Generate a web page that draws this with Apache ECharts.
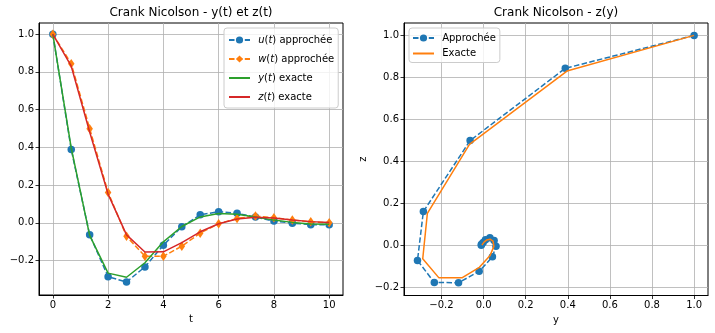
<!DOCTYPE html>
<html>
<head>
<meta charset="utf-8">
<script src="https://cdn.jsdelivr.net/npm/echarts@6/dist/echarts.min.js"></script>
<style>
  html, body { margin: 0; padding: 0; background: #fff; }
  #chart { width: 715px; height: 333px; }
</style>
</head>
<body>
<div id="chart"></div>
<script>
// Time grid of the Crank-Nicolson scheme (h = 2/3)
const tValues = [0, 0.667, 1.333, 2, 2.667, 3.333, 4, 4.667, 5.333, 6, 6.667, 7.333, 8, 8.667, 9.333, 10];

// Approximate solution
const uApprox = [1.0, 0.388, -0.064, -0.286, -0.314, -0.234, -0.119, -0.021, 0.042, 0.059, 0.050, 0.030, 0.009, -0.002, -0.010, -0.011];
const wApprox = [1.0, 0.843, 0.499, 0.161, -0.072, -0.177, -0.178, -0.124, -0.055, -0.005, 0.023, 0.036, 0.027, 0.014, 0.005, 0.0];

// Exact solution sampled on the same grid
const yExact = [1.0, 0.396, -0.067, -0.267, -0.289, -0.212, -0.101, -0.020, 0.031, 0.049, 0.045, 0.031, 0.014, 0.002, -0.006, -0.008];
const zExact = [1.0, 0.830, 0.481, 0.152, -0.064, -0.155, -0.154, -0.105, -0.048, -0.005, 0.020, 0.029, 0.025, 0.015, 0.006, 0.001];

// Tick values
const tTicks = [0, 2, 4, 6, 8, 10];
const valueTicks = [-0.2, 0.0, 0.2, 0.4, 0.6, 0.8, 1.0];

const C_BLUE = '#1f77b4', C_ORANGE = '#ff7f0e', C_GREEN = '#2ca02c', C_RED = '#d62728';
const FONT = 'DejaVu Sans';
const DASH = [5.5, 2.4];

const fmt1 = v => v.toFixed(1).replace('-', '\u2212');
const zip = (a, b) => a.map((v, i) => [v, b[i]]);

function valueAxis(gridIndex, min, max, ticks, formatter, extra) {
  return Object.assign({
    type: 'value',
    gridIndex: gridIndex,
    min: min,
    max: max,
    axisLine: { show: true, onZero: false, lineStyle: { color: '#000', width: 1 } },
    axisTick: { show: true, inside: false, length: 3.5, customValues: ticks, lineStyle: { color: '#000', width: 0.8 } },
    axisLabel: { customValues: ticks, formatter: formatter, color: '#000', fontFamily: FONT, fontSize: 10, margin: 5 },
    splitLine: { show: true, lineStyle: { color: '#b0b0b0', width: 0.8 } }
  }, extra || {});
}

const italicRich = {
  i: { fontStyle: 'italic', fontFamily: FONT, fontSize: 10, color: '#000' },
  n: { fontFamily: FONT, fontSize: 10, color: '#000' }
};

const legendNames = {
  'u(t) approchée': '{n| }{i|u}{n|(}{i|t}{n|) approchée}',
  'w(t) approchée': '{n| }{i|w}{n|(}{i|t}{n|) approchée}',
  'y(t) exacte': '{n| }{i|y}{n|(}{i|t}{n|) exacte}',
  'z(t) exacte': '{n| }{i|z}{n|(}{i|t}{n|) exacte}'
};

const chart = echarts.init(document.getElementById('chart'), null, { renderer: 'canvas' });

chart.setOption({
  animation: false,
  backgroundColor: '#fff',
  graphic: [
    { type: 'text', x: 191, y: 13, style: { text: 'Crank Nicolson - y(t) et z(t)', fontFamily: FONT, fontSize: 12, fill: '#000', align: 'center', verticalAlign: 'middle' } },
    { type: 'text', x: 556, y: 13, style: { text: 'Crank Nicolson - z(y)', fontFamily: FONT, fontSize: 12, fill: '#000', align: 'center', verticalAlign: 'middle' } }
  ],
  grid: [
    { left: 39, top: 23, width: 304, height: 272, show: true, borderColor: '#000', borderWidth: 1, backgroundColor: 'transparent' },
    { left: 404, top: 23, width: 304, height: 272.5, show: true, borderColor: '#000', borderWidth: 1, backgroundColor: 'transparent' }
  ],
  xAxis: [
    valueAxis(0, -0.5, 10.5, tTicks, v => String(v), {
      name: 't', nameLocation: 'middle', nameGap: 19,
      nameTextStyle: { fontFamily: FONT, fontSize: 10, color: '#000' }
    }),
    valueAxis(1, -0.378, 1.066, valueTicks, fmt1, {
      name: 'y', nameLocation: 'middle', nameGap: 19,
      nameTextStyle: { fontFamily: FONT, fontSize: 10, color: '#000' }
    })
  ],
  yAxis: [
    valueAxis(0, -0.383, 1.059, valueTicks, fmt1),
    valueAxis(1, -0.239, 1.059, valueTicks, fmt1, {
      name: 'z', nameLocation: 'middle', nameGap: 36, nameRotate: 90,
      nameTextStyle: { fontFamily: FONT, fontSize: 10, color: '#000' }
    })
  ],
  legend: [
    {
      orient: 'vertical',
      left: 224, top: 28,
      width: 114,
      padding: [6, 4, 5, 4],
      itemWidth: 21, itemHeight: 9, itemGap: 7,
      backgroundColor: 'rgba(255,255,255,0.8)',
      borderColor: '#cccccc', borderWidth: 1, borderRadius: 3,
      data: [
        { name: 'u(t) approchée' },
        { name: 'w(t) approchée' },
        { name: 'y(t) exacte', itemStyle: { opacity: 0 } },
        { name: 'z(t) exacte', itemStyle: { opacity: 0 } }
      ],
      formatter: name => legendNames[name],
      textStyle: { fontFamily: FONT, fontSize: 10, color: '#000', lineHeight: 12, rich: italicRich }
    },
    {
      orient: 'vertical',
      left: 409, top: 28,
      padding: [4, 4, 3, 3],
      itemWidth: 21, itemHeight: 9, itemGap: 3.5,
      backgroundColor: 'rgba(255,255,255,0.8)',
      borderColor: '#cccccc', borderWidth: 1, borderRadius: 3,
      data: [
        { name: 'Approchée' },
        { name: 'Exacte', itemStyle: { opacity: 0 } }
      ],
      formatter: name => '{n| }{n|' + name + '}',
      textStyle: { fontFamily: FONT, fontSize: 10, color: '#000', lineHeight: 12, rich: italicRich }
    }
  ],
  series: [
    {
      name: 'u(t) approchée', type: 'line', xAxisIndex: 0, yAxisIndex: 0,
      data: zip(tValues, uApprox),
      symbol: 'circle', symbolSize: 7.5, showSymbol: true,
      itemStyle: { color: C_BLUE },
      lineStyle: { color: C_BLUE, width: 1.5, type: DASH },
      z: 2
    },
    {
      name: 'w(t) approchée', type: 'line', xAxisIndex: 0, yAxisIndex: 0,
      data: zip(tValues, wApprox),
      symbol: 'diamond', symbolSize: [6.5, 9.5], showSymbol: true,
      itemStyle: { color: C_ORANGE },
      lineStyle: { color: C_ORANGE, width: 1.5, type: DASH },
      z: 3
    },
    {
      name: 'y(t) exacte', type: 'line', xAxisIndex: 0, yAxisIndex: 0,
      data: zip(tValues, yExact),
      symbol: 'circle', showSymbol: false,
      itemStyle: { color: C_GREEN },
      lineStyle: { color: C_GREEN, width: 1.5 },
      z: 4
    },
    {
      name: 'z(t) exacte', type: 'line', xAxisIndex: 0, yAxisIndex: 0,
      data: zip(tValues, zExact),
      symbol: 'circle', showSymbol: false,
      itemStyle: { color: C_RED },
      lineStyle: { color: C_RED, width: 1.5 },
      z: 5
    },
    {
      name: 'Approchée', type: 'line', xAxisIndex: 1, yAxisIndex: 1,
      data: zip(uApprox, wApprox),
      symbol: 'circle', symbolSize: 7.5, showSymbol: true,
      itemStyle: { color: C_BLUE },
      lineStyle: { color: C_BLUE, width: 1.5, type: DASH },
      z: 2
    },
    {
      name: 'Exacte', type: 'line', xAxisIndex: 1, yAxisIndex: 1,
      data: zip(yExact, zExact),
      symbol: 'circle', showSymbol: false,
      itemStyle: { color: C_ORANGE },
      lineStyle: { color: C_ORANGE, width: 1.5 },
      z: 3
    }
  ]
});
</script>
</body>
</html>
